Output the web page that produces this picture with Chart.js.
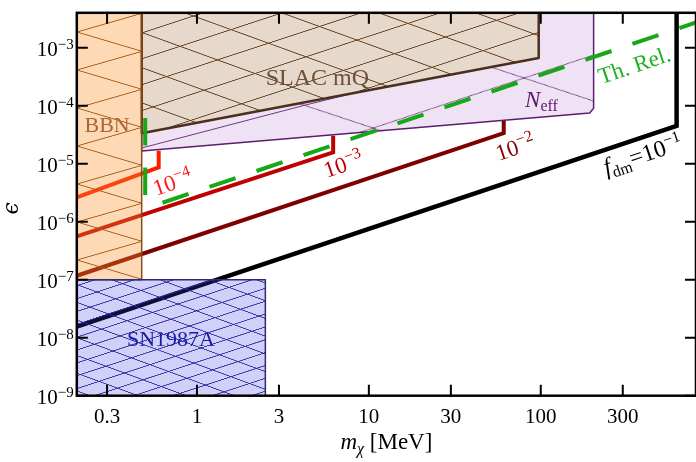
<!DOCTYPE html>
<html><head><meta charset="utf-8">
<script src="https://cdn.jsdelivr.net/npm/chart.js@4.4.1/dist/chart.umd.min.js"></script>
<style>html,body{margin:0;padding:0;background:#fff;}canvas{display:block;}</style>
</head><body>
<canvas id="c" width="696" height="462"></canvas>
<script>
// ---------------- data ----------------
const xTicks = [0.3, 1, 3, 10, 30, 100, 300];
const xTickLabels = ['0.3', '1', '3', '10', '30', '100', '300'];
const yTicks = [1e-9, 1e-8, 1e-7, 1e-6, 1e-5, 1e-4, 1e-3];
const yTickExps = ['\u22129', '\u22128', '\u22127', '\u22126', '\u22125', '\u22124', '\u22123'];

// f_dm contours (m_chi [MeV], epsilon)
const fdm4_m = [0.2, 0.599, 0.599];
const fdm4_eps = [2.62e-6, 8.63e-6, 1.67e-5];
const fdm3_m = [0.2, 6.2, 6.2];
const fdm3_eps = [5.58e-7, 1.57e-5, 3.04e-5];
const fdm2_m = [0.2, 60.9, 60.9];
const fdm2_eps = [1.17e-7, 3.38e-5, 5.44e-5];
const fdm1_m = [0.2, 617, 617];
const fdm1_eps = [1.55e-8, 4.47e-5, 4e-3];
// thermal relic
const threl_m = [0.5, 0.5, 0.609, 800];
const threl_eps = [6.14e-5, 2.46e-6, 2.05e-6, 2.73e-3];
// excluded regions
const bbn_m = [0.2, 0.2, 0.477, 0.477, 0.2];
const bbn_eps = [4e-3, 1e-7, 1e-7, 4e-3, 4e-3];
const slac_m = [0.477, 0.477, 97.3, 97.3, 0.477];
const slac_eps = [4e-3, 3.34e-5, 6.64e-4, 4e-3, 4e-3];
const neff_m = [0.477, 192.7, 203, 203, 0.477, 0.477];
const neff_eps = [1.66e-5, 7.48e-5, 9.1e-5, 4e-3, 4e-3, 1.66e-5];
const neffEdge_m = [0.485, 4.13, 7.5];
const neffEdge_eps = [1.89e-5, 1e-4, 1.55e-4];
const sn_m = [0.2, 0.2, 2.5, 2.5, 0.2];
const sn_eps = [1e-9, 1e-7, 1e-7, 1e-9, 1e-9];

// ---------------- styling ----------------
const SERIF = "'Liberation Serif','DejaVu Serif',serif";
const ROT = -Math.atan(0.337);
const canvas = document.getElementById('c');
const ctx0 = canvas.getContext('2d');

function makeHatch(bg, stroke, lw, a, b, anchor) {
  const T = 128;
  const cv = document.createElement('canvas'); cv.width = T; cv.height = T;
  const g = cv.getContext('2d');
  g.fillStyle = bg; g.fillRect(0, 0, T, T);
  const cross = Math.abs(a[0] * b[1] - a[1] * b[0]);
  const la = Math.hypot(a[0], a[1]), lb = Math.hypot(b[0], b[1]);
  g.strokeStyle = stroke;
  g.lineWidth = lw * T * la / (Math.SQRT2 * cross);
  g.beginPath();
  for (const k of [-T, 0, T]) { g.moveTo(-T, -T + k); g.lineTo(2 * T, 2 * T + k); }
  g.stroke();
  g.lineWidth = lw * T * lb / (Math.SQRT2 * cross);
  g.beginPath();
  for (const k of [-T, 0, T]) { g.moveTo(-T, 2 * T + k); g.lineTo(2 * T, -T + k); }
  g.stroke();
  const p = ctx0.createPattern(cv, 'repeat');
  const c1 = [(a[0] + b[0]) / T, (a[1] + b[1]) / T];
  const c2 = [(a[0] - b[0]) / T, (a[1] - b[1]) / T];
  p.setTransform(new DOMMatrix([c1[0], c1[1], c2[0], c2[1], anchor[0], anchor[1]]));
  return p;
}

const slacFill = makeHatch('#e6d8ca', 'rgba(105,70,40,0.95)', 1.0, [37.5, 13.6], [51, -16.7], [180, 46.3]);
const snFill = makeHatch('rgba(60,60,230,0.24)', 'rgba(40,40,160,0.85)', 1.0, [18.5, 6.8], [25.5, -8.35], [97, 292]);
const bbnFill = makeHatch('rgba(249,146,44,0.35)', 'rgba(170,90,20,0.9)', 1.0, [65, 19.3], [65, -18.7], [142, 51.3]);
const neffFill = makeHatch('rgba(190,140,210,0.25)', 'rgba(100,35,115,0.9)', 1.0, [151, 50], [151, -50], [373, 128]);

function pts(xs, ys) { return xs.map((v, i) => ({ x: v, y: ys[i] })); }
function lineDS(label, xs, ys, color, width, order, extra) {
  return Object.assign({
    label, data: pts(xs, ys), showLine: true, borderColor: color, borderWidth: width,
    pointRadius: 0, pointHoverRadius: 0, fill: false, tension: 0, order,
    borderCapStyle: 'butt', borderJoinStyle: 'miter'
  }, extra || {});
}
function regionDS(label, xs, ys, bg, border, width, order) {
  return {
    label, data: pts(xs, ys), showLine: true, backgroundColor: bg, borderColor: border,
    borderWidth: width, pointRadius: 0, pointHoverRadius: 0, fill: 'shape', tension: 0,
    order, borderJoinStyle: 'round'
  };
}

const datasets = [
  lineDS('Th. Rel.', threl_m, threl_eps, '#16a816', 4, 0, { borderDash: [27.5, 22.1] }),
  regionDS('SN1987A', sn_m, sn_eps, snFill, '#2b2b78', 1.5, 1),
  regionDS('BBN', bbn_m, bbn_eps, bbnFill, '#8a4b16', 1.5, 2),
  regionDS('SLAC mQ', slac_m, slac_eps, slacFill, '#4a2f1f', 2.5, 3),
  lineDS('Neff edge', neffEdge_m, neffEdge_eps, 'rgba(100,35,115,0.9)', 1, 4),
  regionDS('Neff', neff_m, neff_eps, neffFill, '#5d1d6e', 1.5, 5),
  lineDS('fdm 1e-4', fdm4_m, fdm4_eps, '#ff1a00', 4, 6),
  lineDS('fdm 1e-3', fdm3_m, fdm3_eps, '#c00000', 4, 7),
  lineDS('fdm 1e-2', fdm2_m, fdm2_eps, '#800000', 4, 8),
  lineDS('fdm 1e-1', fdm1_m, fdm1_eps, '#000000', 4.5, 9)
];

// text annotations (positions in data coordinates)
const annotations = [
  { parts: [['SLAC mQ', `24px ${SERIF}`, 0]], m: 5.02, e: 3.13e-4, color: '#6e5038', rot: 0, base: 8 },
  { parts: [['BBN', `22px ${SERIF}`, 0]], m: 0.30, e: 4.83e-5, color: '#aa6633', rot: 0, base: 7.5 },
  { parts: [['SN1987A', `22px ${SERIF}`, 0]], m: 0.706, e: 9.5e-9, color: '#1c1ca8', rot: 0, base: 7.5 },
  { parts: [['N', `italic 23px ${SERIF}`, 0], ['eff', `16px ${SERIF}`, 4]], m: 101, e: 1.28e-4, color: '#5a1a6a', rot: 0, base: 7.6 },
  { parts: [['Th. Rel.', `23px ${SERIF}`, 0]], m: 350, e: 5.0e-4, color: '#22b022', rot: ROT, base: 7.6 },
  { parts: [['10', `23px ${SERIF}`, 0], ['\u22124', `16px ${SERIF}`, -9]], m: 0.716, e: 5.04e-6, color: '#ff1a1a', rot: ROT, base: 9 },
  { parts: [['10', `23px ${SERIF}`, 0], ['\u22123', `16px ${SERIF}`, -9]], m: 7.06, e: 1.03e-5, color: '#c00000', rot: ROT, base: 9 },
  { parts: [['10', `23px ${SERIF}`, 0], ['\u22122', `16px ${SERIF}`, -9]], m: 70.6, e: 2.02e-5, color: '#8b0000', rot: ROT, base: 9 },
  { parts: [['f', `italic 24px ${SERIF}`, 0], ['dm', `16px ${SERIF}`, 5], ['=10', `24px ${SERIF}`, 0], ['\u22121', `16px ${SERIF}`, -9]], m: 392, e: 1.45e-5, color: '#000000', rot: ROT, base: 8 }
];

function rich(ctx, parts, cx, cy, opts) {
  ctx.save();
  ctx.translate(cx, cy);
  if (opts.rot) ctx.rotate(opts.rot);
  let w = 0;
  const ws = parts.map(p => { ctx.font = p[1]; const m = ctx.measureText(p[0]).width; w += m; return m; });
  let x0 = opts.align === 'right' ? -w : (opts.align === 'left' ? 0 : -w / 2);
  ctx.fillStyle = opts.color || '#000';
  ctx.textBaseline = 'alphabetic';
  ctx.textAlign = 'left';
  parts.forEach((p, i) => { ctx.font = p[1]; ctx.fillText(p[0], x0, (opts.base || 0) + p[2]); x0 += ws[i]; });
  ctx.restore();
}

const decor = {
  id: 'decor',
  afterDraw(chart) {
    const { ctx, chartArea: ca } = chart;
    const x = chart.scales.x, y = chart.scales.y;
    ctx.save();
    // annotations
    for (const a of annotations) {
      rich(ctx, a.parts, x.getPixelForValue(a.m), y.getPixelForValue(a.e), { rot: a.rot, color: a.color, base: a.base });
    }
    // ticks
    ctx.strokeStyle = '#000';
    ctx.lineWidth = 2;
    ctx.beginPath();
    for (const v of xTicks) {
      const px = x.getPixelForValue(v);
      ctx.moveTo(px, ca.bottom); ctx.lineTo(px, ca.bottom - 11);
      ctx.moveTo(px, ca.top); ctx.lineTo(px, ca.top + 11);
    }
    for (const v of yTicks) {
      const py = y.getPixelForValue(v);
      ctx.moveTo(ca.left, py); ctx.lineTo(ca.left + 11, py);
      ctx.moveTo(ca.right, py); ctx.lineTo(ca.right - 11, py);
    }
    ctx.stroke();
    // frame
    ctx.lineWidth = 2.5;
    ctx.strokeRect(ca.left, ca.top, ca.right - ca.left, ca.bottom - ca.top);
    // tick labels
    ctx.fillStyle = '#000';
    ctx.font = `21px ${SERIF}`;
    ctx.textAlign = 'center';
    ctx.textBaseline = 'alphabetic';
    xTicks.forEach((v, i) => ctx.fillText(xTickLabels[i], x.getPixelForValue(v), ca.bottom + 27.5));
    yTicks.forEach((v, i) => {
      rich(ctx, [['10', `21px ${SERIF}`, 0], [yTickExps[i], `15px ${SERIF}`, -7]], ca.left - 3, y.getPixelForValue(v) + 8, { align: 'right' });
    });
    // axis titles
    rich(ctx, [['m', `italic 23px ${SERIF}`, 0], ['\u03C7', `italic 16px ${SERIF}`, 5], [' [MeV]', `23px ${SERIF}`, 0]], (ca.left + ca.right) / 2, ca.bottom + 53, {});
    rich(ctx, [['\u03F5', `italic 22px 'DejaVu Serif',serif`, 0]], 13, (ca.top + ca.bottom) / 2 + 4, { rot: -Math.PI / 2, base: 5 });
    ctx.restore();
  }
};

new Chart(canvas, {
  type: 'line',
  data: { datasets },
  options: {
    responsive: false,
    animation: false,
    devicePixelRatio: 1,
    events: [],
    layout: { padding: { top: 12.8, left: 0, right: 0, bottom: 0 } },
    plugins: { legend: { display: false }, tooltip: { enabled: false } },
    scales: {
      x: {
        type: 'logarithmic', min: 0.2, max: 800,
        grid: { display: false }, border: { display: false }, ticks: { display: false },
        afterFit(s) { s.height = 66.3; }
      },
      y: {
        type: 'logarithmic', min: 1e-9, max: 4e-3,
        grid: { display: false }, border: { display: false }, ticks: { display: false },
        afterFit(s) { s.width = 76.8; }
      }
    }
  },
  plugins: [decor]
});
</script>
</body></html>
